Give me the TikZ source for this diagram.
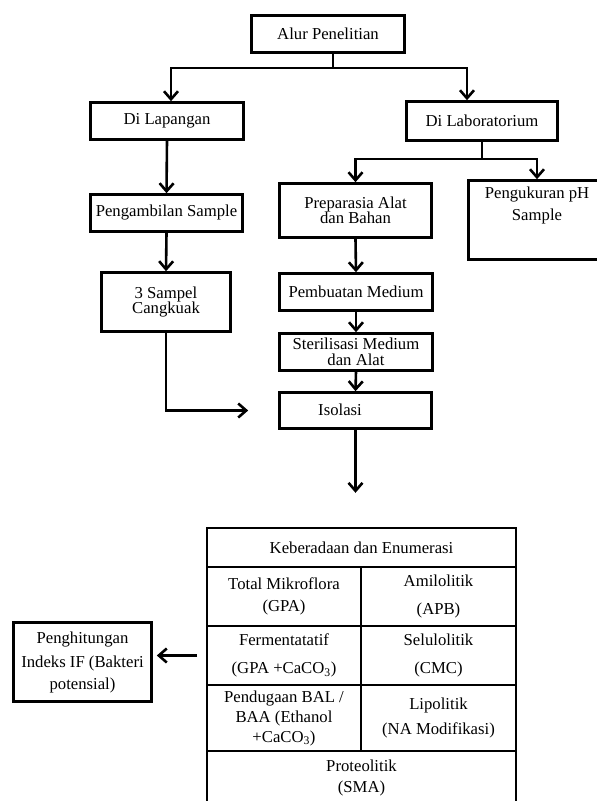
\documentclass[tikz,border=0pt]{standalone}
\usepackage{fontspec}
\setmainfont{Liberation Serif}
\usetikzlibrary{arrows.meta}
\tikzset{
  box/.style={draw, line width=2.6pt, align=center, inner sep=2pt},
  cell/.style={draw, line width=2pt, align=center, inner sep=2pt},
  txt/.style={align=center, inner sep=0pt},
  link/.style={line width=2.6pt},
  arr/.style={link, -{Straight Barb[length=8pt,width=14pt]}}
}
\begin{document}
\begin{tikzpicture}[x=1pt, y=-1pt, font=\fontsize{16.7}{15.5}\selectfont]
    \useasboundingbox (0,0) rectangle (597,801);
    \node[box, minimum width=153, minimum height=37] (alur) at (328,34) {Alur Penelitian};
    \node[box, minimum width=153, minimum height=37] (lap) at (167,121) {Di Lapangan};
    \node[box, minimum width=151, minimum height=39] (lab) at (482,121) {Di Laboratorium};
    \node[box, minimum width=152, minimum height=37] (samp) at (166.5,213) {Pengambilan Sample};
    \node[box, minimum width=129, minimum height=59] (cangk) at (166,302) {3 Sampel\\Cangkuak};
    \node[box, minimum width=152, minimum height=54] (prep) at (355.5,210.5) {Preparasia Alat\\dan Bahan};
    \node[box, minimum width=137, minimum height=79] (peng) at (537,220) {};
    \node[txt] (pengtext) at (537,205.5) {Pengukuran pH\\[6pt]Sample};
    \node[box, minimum width=153, minimum height=37] (pemb) at (356,292) {Pembuatan Medium};
    \node[box, minimum width=153, minimum height=37] (steril) at (356,352) {Sterilisasi Medium\\[1pt]dan Alat};
    \node[box, minimum width=152, minimum height=36] (iso) at (355.5,410.5) {};
    \node[txt] (isotext) at (340,410) {Isolasi};
    \node[box, minimum width=138, minimum height=79] (hit) at (82.5,662) {Penghitungan\\[9pt]Indeks IF (Bakteri\\[6pt]potensial)};

    \node[cell, minimum width=309, minimum height=39] (keb) at (361.5,547.5) {Keberadaan dan Enumerasi};
    \node[cell, minimum width=154, minimum height=59] (tm) at (284,596.5) {Total Mikroflora\\[7pt](GPA)};
    \node[cell, minimum width=155, minimum height=59] (ami) at (438.5,596.5) {Amilolitik\\[12pt](APB)};
    \node[cell, minimum width=154, minimum height=59] (fer) at (284,655.5) {Fermentatatif\\[13pt](GPA +CaCO\textsubscript{3})};
    \node[cell, minimum width=155, minimum height=59] (sel) at (438.5,655.5) {Selulolitik\\[13pt](CMC)};
    \node[cell, minimum width=154, minimum height=66] (bal) at (284,718) {Pendugaan BAL /\\[5pt]BAA (Ethanol\\[4pt]+CaCO\textsubscript{3})};
    \node[cell, minimum width=155, minimum height=66] (lip) at (438.5,718) {Lipolitik\\[10pt](NA Modifikasi)};
    \node[cell, minimum width=309, minimum height=64] (pro) at (361.5,783) {};
    \node[txt] (protext) at (361.5,778) {Proteolitik\\[6pt](SMA)};

    \draw[arr] ([xshift=5]alur.south) -- ++(0,14) -| ([xshift=4]lap.north);
    \draw[arr] ([xshift=5]alur.south) -- ++(0,14) -| ([xshift=-15]lab.north);
    \draw[arr] (lap.south) -- (samp.north);
    \draw[arr] (samp.south) -- (cangk.north);
    \draw[arr] (cangk.south) |- ([xshift=-30]iso.west);
    \draw[arr] (lab.south) -- ++(0,17) -| (prep.north);
    \draw[arr] (lab.south) -- ++(0,17) -| (peng.north);
    \draw[arr] (prep.south) -- (pemb.north);
    \draw[arr] (pemb.south) -- (steril.north);
    \draw[arr] (steril.south) -- (iso.north);
    \draw[arr] (iso.south) -- ++(0,63);
    \draw[arr, shorten <=9pt, shorten >=4pt] (fer.west) -- (fer.west -| hit.east);
\end{tikzpicture}
\end{document}
